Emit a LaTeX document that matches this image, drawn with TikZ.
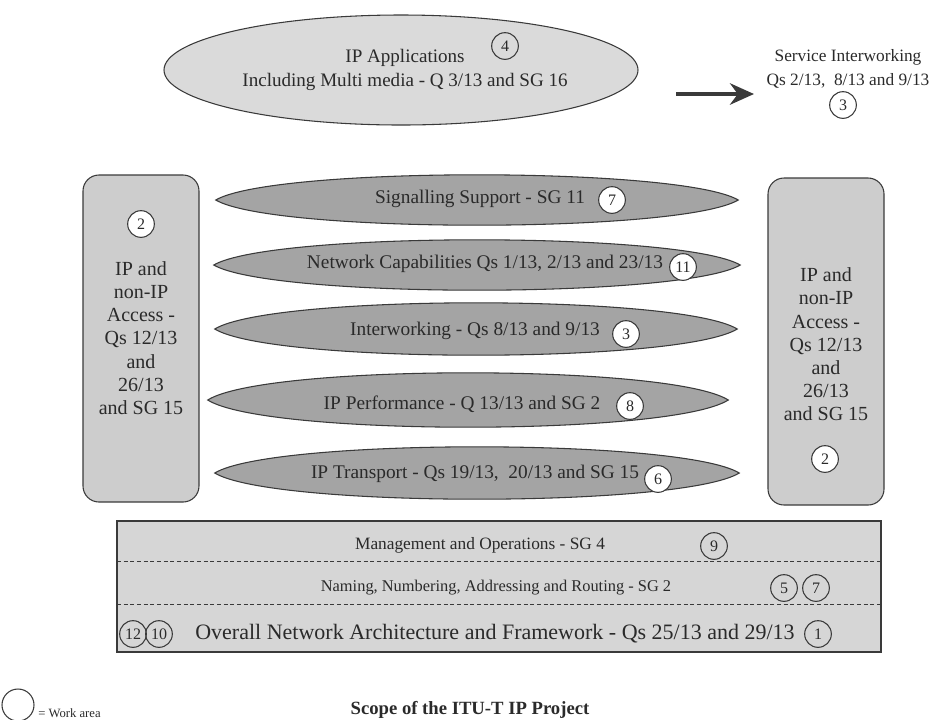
\documentclass[tikz,border=0pt]{standalone}
\usepackage{fontspec}
\setmainfont{Liberation Serif}
\usetikzlibrary{shapes.geometric,arrows.meta,calc}
\definecolor{appfill}{HTML}{DADADA}
\definecolor{sidefill}{HTML}{CDCDCD}
\definecolor{bandfill}{HTML}{A4A4A4}
\definecolor{basefill}{HTML}{D6D6D6}
\definecolor{edge}{HTML}{3A3A3A}
\definecolor{ink}{HTML}{2A2A2A}
% pointed oval outline drawn through the anchors of a frame node
\newcommand\lensband[1]{%
  \draw[edge, fill=bandfill, line width=0.8pt]
    (#1.west) .. controls ($(#1.north west)!0.11!(#1.north east)$)
                      and ($(#1.north west)!0.89!(#1.north east)$) .. (#1.east)
              .. controls ($(#1.south west)!0.89!(#1.south east)$)
                      and ($(#1.south west)!0.11!(#1.south east)$) .. (#1.west) -- cycle;}
\begin{document}
\begin{tikzpicture}[x=0.75pt,y=-0.75pt,
  num/.style={circle, draw=edge, line width=0.8pt, minimum size=20pt, inner sep=0pt,
              text=ink, font=\fontsize{12}{13}\selectfont},
  wnum/.style={num, fill=white},
  bandframe/.style={rectangle, inner sep=0pt,
               minimum width={522*0.75pt}, minimum height={4/3*50*0.75pt}},
  lbl/.style={text=ink, font=\fontsize{14.5}{17}\selectfont, inner sep=0pt},
  sidebox/.style={rectangle, rounded corners=12pt, draw=edge, fill=sidefill, line width=0.8pt,
                  minimum width={116*0.75pt}, minimum height={327*0.75pt}},
  sidetext/.style={text=ink, align=center, font=\fontsize{15}{17.4}\selectfont, inner sep=0pt},
  bigarrow/.style={draw=edge, line width=3.2pt, -{Stealth[length=18pt, width=16pt]}}
]
\useasboundingbox (0,0) rectangle (941,719);

% --- applications layer and service interworking
\node[ellipse, draw=edge, fill=appfill, line width=0.8pt, minimum width={474*0.75pt},
      minimum height={110*0.75pt}] (apps) at (401,70) {};
\node[lbl, align=center, font=\fontsize{14.3}{18}\selectfont] (appstext) at (405,70)
  {IP Applications\\Including Multi media - Q 3/13 and SG 16};
\node[num] (n4) at (505,46) {4};

\node[lbl, align=center, font=\fontsize{13}{17.5}\selectfont] (svc) at (848,69)
  {Service Interworking\\Qs 2/13,\ \ 8/13 and 9/13};
\node[num] (n3svc) at (843,105) {3};
\coordinate (arrowtail) at (676,94);
\coordinate (arrowtip) at (754,94);
\draw[bigarrow] (arrowtail) -- (arrowtip);

% --- access columns
\node[sidebox] (accl) at (141,338.5) {};
\node[wnum] (n2l) at (141,224) {2};
\node[sidetext] (accltext) at (141,338)
  {IP and\\non-IP\\Access -\\Qs 12/13\\and\\26/13\\and SG 15};

\node[sidebox] (accr) at (826,341.5) {};
\node[sidetext] (accrtext) at (826,344.5)
  {IP and\\non-IP\\Access -\\Qs 12/13\\and\\26/13\\and SG 15};
\node[wnum] (n2r) at (825,459) {2};

% --- network bands
\node[bandframe] (sig) at (477,200) {};
\node[bandframe, minimum width={526*0.75pt}] (cap) at (477,265) {};
\node[bandframe, minimum height={4/3*52*0.75pt}] (iw) at (476,329) {};
\node[bandframe, minimum width={520*0.75pt}, minimum height={4/3*54*0.75pt}] (perf) at (468,400) {};
\node[bandframe, minimum width={524*0.75pt}, minimum height={4/3*52*0.75pt}] (trans) at (477,473) {};
\lensband{sig}
\lensband{cap}
\lensband{iw}
\lensband{perf}
\lensband{trans}

\node[lbl] (sigtext) at (480,199) {Signalling Support - SG 11};
\node[wnum] (n7a) at (612,200) {7};
\node[lbl] (captext) at (485,264) {Network Capabilities Qs 1/13, 2/13 and 23/13};
\node[wnum] (n11) at (683,267) {11};
\node[lbl] (iwtext) at (475,331) {Interworking - Qs 8/13 and 9/13};
\node[wnum] (n3) at (626,334) {3};
\node[lbl] (perftext) at (462,404) {IP Performance - Q 13/13 and SG 2};
\node[wnum] (n8) at (630,406) {8};
\node[lbl] (transtext) at (475,474) {IP Transport - Qs 19/13,\ \ 20/13 and SG 15};
\node[wnum] (n6) at (658,479) {6};

% --- base layers
\node[rectangle, draw=edge, fill=basefill, line width=0.8pt, minimum width={764*0.75pt},
      minimum height={131*0.75pt}, inner sep=0pt] (base) at (499,586.5) {};
\coordinate (d1l) at (117,561);
\coordinate (d1r) at (881,561);
\coordinate (d2l) at (117,604);
\coordinate (d2r) at (881,604);
\draw[edge, line width=0.7pt, dash pattern=on 3pt off 2pt] (d1l) -- (d1r);
\draw[edge, line width=0.7pt, dash pattern=on 3pt off 2pt] (d2l) -- (d2r);

\node[lbl, font=\fontsize{13}{15}\selectfont] (mgmt) at (480,545) {Management and Operations - SG 4};
\node[num] (n9) at (714,546) {9};
\node[lbl, font=\fontsize{12.3}{15}\selectfont] (naming) at (496,588) {Naming, Numbering, Addressing and Routing - SG 2};
\node[num] (n5) at (784,588) {5};
\node[num] (n7b) at (816,588) {7};
\node[lbl, font=\fontsize{16.5}{19}\selectfont] (arch) at (495,634)
  {Overall Network Architecture and Framework - Qs 25/13 and 29/13};
\node[num] (n12) at (133,634) {12};
\node[num] (n10) at (159,634) {10};
\node[num] (n1) at (818,634) {1};

% --- legend and title
\node[circle, draw=edge, line width=0.8pt, minimum size={32*0.75pt}, inner sep=0pt] (legend) at (18,705) {};
\node[lbl, anchor=west, font=\fontsize{9.5}{11}\selectfont] (legendtext) at (38,713) {= Work area};
\node[lbl, font=\bfseries\fontsize{14}{16}\selectfont] (title) at (470,710) {Scope of the ITU-T IP Project};
\end{tikzpicture}
\end{document}
